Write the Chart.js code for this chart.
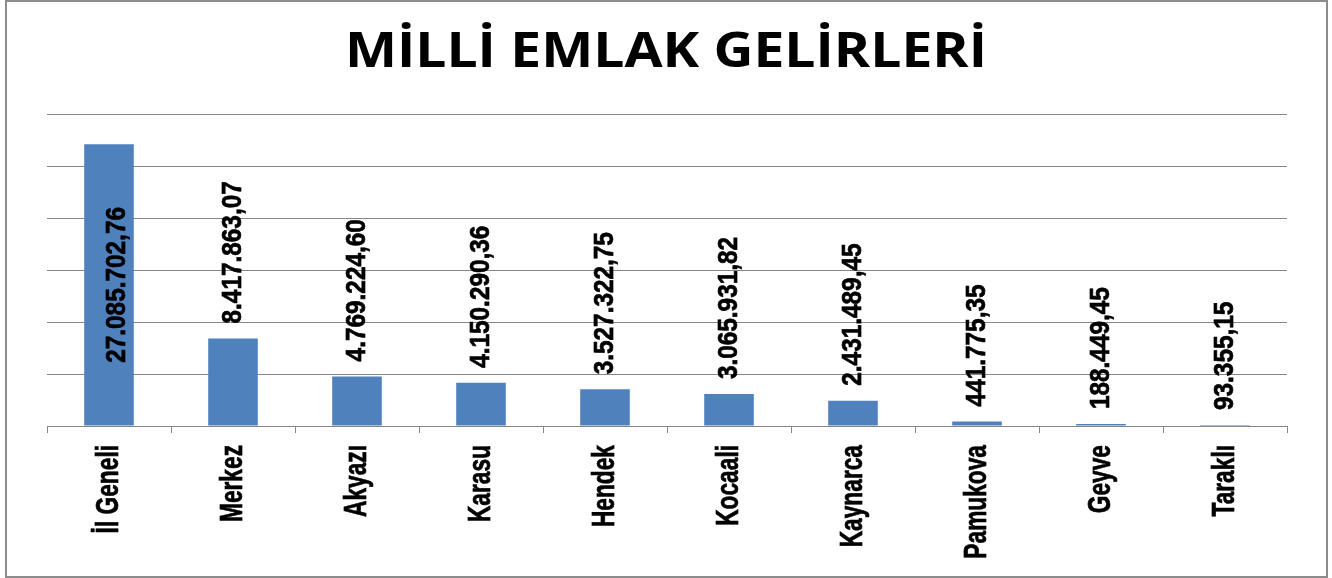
<!DOCTYPE html>
<html>
<head>
<meta charset="utf-8">
<script src="https://cdn.jsdelivr.net/npm/chart.js@4.4.1/dist/chart.umd.min.js"></script>
<style>
  body { margin: 0; background: #fff; }
  #wrap { position: relative; width: 1332px; height: 578px; }
  #frame { position: absolute; left: 5px; top: 0; width: 1323px; height: 578px;
           border: 2px solid #8c8c8c; box-sizing: border-box; pointer-events: none; }
</style>
</head>
<body>
<div id="wrap">
  <canvas id="chart" width="1332" height="578"></canvas>
  <div id="frame"></div>
</div>
<script>
// ilçe isimleri ve gelirler (TL)
const categories = ['İl Geneli', 'Merkez', 'Akyazı', 'Karasu', 'Hendek', 'Kocaali', 'Kaynarca', 'Pamukova', 'Geyve', 'Taraklı'];
const values = [27085702.76, 8417863.07, 4769224.60, 4150290.36, 3527322.75, 3065931.82, 2431489.45, 441775.35, 188449.45, 93355.15];
const chartTitle = 'MİLLİ EMLAK GELİRLERİ';
const yMax = 30000000;
const yStep = 5000000;

// Arial Narrow yok, Liberation Sans'ı yatayda sıkıştırıyoruz
const valueFont = 'bold 28px "Liberation Sans", Arial, sans-serif';
const valueNarrow = 0.87;
const catFont = 'bold 32px "Liberation Sans", Arial, sans-serif';
const catNarrow = 0.71;

// Türkçe sayı biçimi: 1.234.567,89
function formatTR(v) {
  const parts = v.toFixed(2).split('.');
  const whole = parts[0].replace(/\B(?=(\d{3})+(?!\d))/g, '.');
  return whole + ',' + parts[1];
}

function boldText(ctx, text) {
  ctx.fillText(text, 0, 0);
  ctx.strokeText(text, 0, 0);
}

// başlık (Calibri gibi biraz geniş)
const titlePlugin = {
  id: 'titlePlugin',
  afterDraw(chart) {
    const ctx = chart.ctx;
    ctx.save();
    ctx.font = 'bold 48px "Open Sans", sans-serif';
    ctx.fillStyle = '#000';
    ctx.textAlign = 'center';
    ctx.textBaseline = 'alphabetic';
    ctx.translate(chart.width / 2, 67);
    ctx.scale(1.15, 1);
    ctx.fillText(chartTitle, 0, 0);
    ctx.restore();
  }
};

// kategori isimleri, dikey
const axisLabels = {
  id: 'axisLabels',
  afterDraw(chart) {
    const ctx = chart.ctx;
    const xScale = chart.scales.x;
    ctx.save();
    ctx.font = catFont;
    ctx.fillStyle = '#000';
    ctx.strokeStyle = '#000';
    ctx.lineWidth = 0.7;
    ctx.textBaseline = 'middle';
    ctx.textAlign = 'right';
    categories.forEach((name, i) => {
      ctx.save();
      ctx.translate(xScale.getPixelForTick(i), xScale.bottom + 12);
      ctx.rotate(-Math.PI / 2);
      ctx.scale(catNarrow, 1);
      boldText(ctx, name);
      ctx.restore();
    });
    ctx.restore();
  }
};

// değer etiketleri, dikey yazı
const barLabels = {
  id: 'barLabels',
  afterDatasetsDraw(chart) {
    const ctx = chart.ctx;
    const area = chart.chartArea;
    const meta = chart.getDatasetMeta(0);
    ctx.save();
    ctx.font = valueFont;
    ctx.fillStyle = '#000';
    ctx.strokeStyle = '#000';
    ctx.lineWidth = 0.7;
    ctx.textBaseline = 'middle';
    meta.data.forEach((bar, i) => {
      const text = formatTR(values[i]);
      const w = ctx.measureText(text).width * valueNarrow;
      const gap = 15;
      ctx.save();
      if (bar.y - area.top - gap < w) {
        // sığmıyorsa çubuğun ortasına
        ctx.translate(bar.x + 8, (bar.y + bar.base) / 2);
        ctx.rotate(-Math.PI / 2);
        ctx.textAlign = 'center';
      } else {
        ctx.translate(bar.x, bar.y - gap);
        ctx.rotate(-Math.PI / 2);
        ctx.textAlign = 'left';
      }
      ctx.scale(valueNarrow, 1);
      boldText(ctx, text);
      ctx.restore();
    });
    ctx.restore();
  }
};

const canvas = document.querySelector('#chart');
new Chart(canvas, {
  type: 'bar',
  data: {
    labels: categories,
    datasets: [{
      data: values,
      backgroundColor: '#4F81BD',
      borderWidth: 0,
      categoryPercentage: 1,
      barPercentage: 0.4
    }]
  },
  options: {
    responsive: false,
    animation: false,
    layout: { padding: { left: 47, right: 45, top: 114, bottom: 145 } },
    plugins: {
      legend: { display: false },
      tooltip: { enabled: false },
      title: { display: false }
    },
    scales: {
      x: {
        grid: { drawOnChartArea: false, drawTicks: true, tickLength: 7, color: '#868686' },
        border: { display: true, color: '#868686' },
        ticks: { display: false, autoSkip: false }
      },
      y: {
        min: 0,
        max: yMax,
        grid: { color: '#868686', drawTicks: false },
        border: { display: false },
        ticks: { display: false, stepSize: yStep }
      }
    }
  },
  plugins: [barLabels, axisLabels, titlePlugin]
});
</script>
</body>
</html>
